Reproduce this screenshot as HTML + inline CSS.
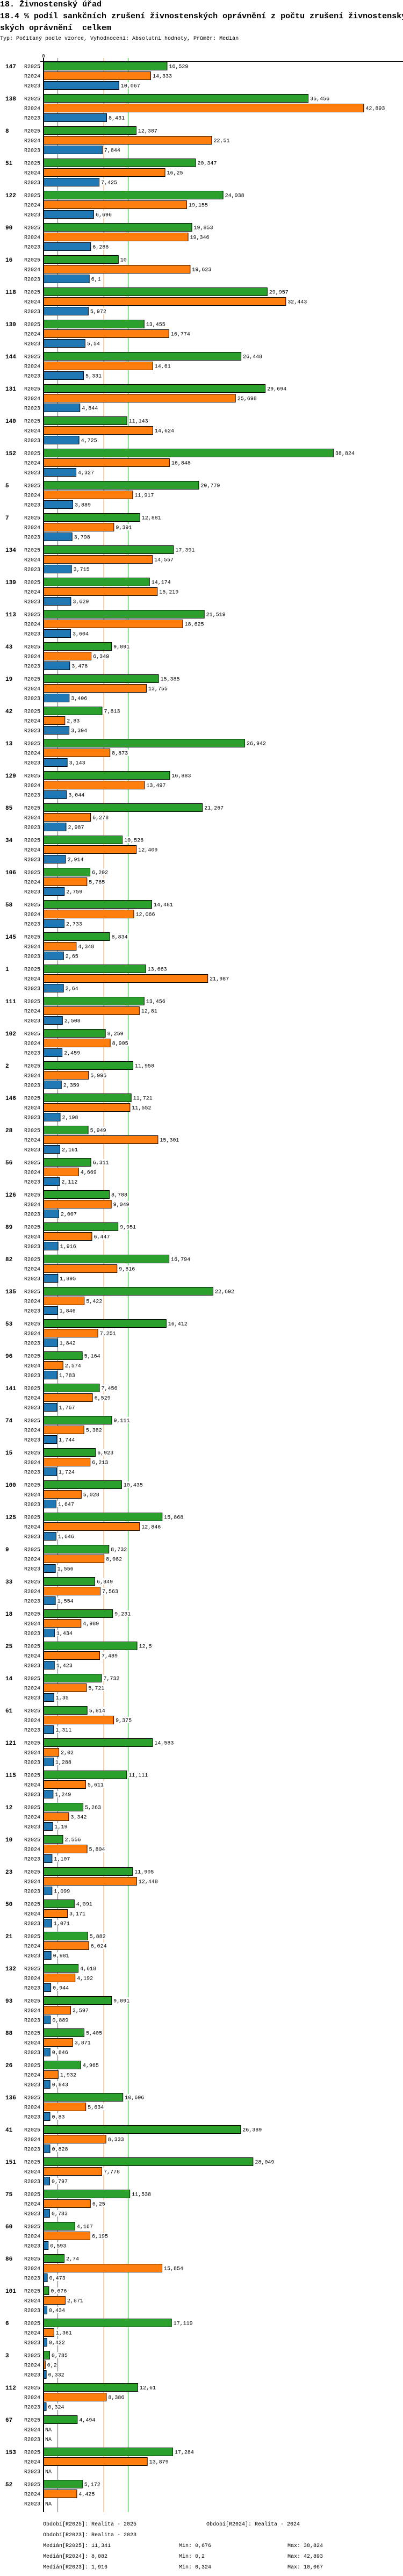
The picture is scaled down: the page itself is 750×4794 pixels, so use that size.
<!DOCTYPE html>
<html><head><meta charset="utf-8">
<style>
html,body{margin:0;padding:0;background:#fff;}
body{width:750px;height:4794px;overflow:hidden;position:relative;font-family:"Liberation Mono","DejaVu Sans Mono",monospace;}
.t{position:absolute;left:0;width:750px;overflow:hidden;font-weight:bold;font-size:15px;white-space:nowrap;color:#000;}
.s{position:absolute;left:0;width:750px;overflow:hidden;font-size:10px;white-space:nowrap;}
svg text{font-family:"Liberation Mono","DejaVu Sans Mono",monospace;}
</style></head>
<body>
<div class="t" style="top:0px">18. Živnostenský úřad</div>
<div class="t" style="top:22px">18.4 % podíl sankčních zrušení živnostenských oprávnění z počtu zrušení živnostenských oprávnění</div>
<div class="t" style="top:44px">ských oprávnění &nbsp;celkem</div>
<div class="s" style="top:67px">Typ: Počítaný podle vzorce, Vyhodnocení: Absolutní hodnoty, Průměr: Medián</div>
<svg id="chart" width="750" height="4794" style="position:absolute;left:0;top:0"></svg>
<script>
const groups = ["147","138","8","51","122","90","16","118","130","144","131","140","152","5","7","134","139","113","43","19","42","13","129","85","34","106","58","145","1","111","102","2","146","28","56","126","89","82","135","53","96","141","74","15","100","125","9","33","18","25","14","61","121","115","12","10","23","50","21","132","93","88","26","136","41","151","75","60","86","101","6","3","112","67","153","52"];
const r2025 = [16.529,35.456,12.387,20.347,24.038,19.853,10,29.957,13.455,26.448,29.694,11.143,38.824,20.779,12.881,17.391,14.174,21.519,9.091,15.385,7.813,26.942,16.883,21.267,10.526,6.202,14.481,8.834,13.663,13.456,8.259,11.958,11.721,5.949,6.311,8.788,9.951,16.794,22.692,16.412,5.164,7.456,9.111,6.923,10.435,15.868,8.732,6.849,9.231,12.5,7.732,5.814,14.583,11.111,5.263,2.556,11.905,4.091,5.882,4.618,9.091,5.405,4.965,10.606,26.389,28.049,11.538,4.167,2.74,0.676,17.119,0.785,12.61,4.494,17.284,5.172];
const r2024 = [14.333,42.893,22.51,16.25,19.155,19.346,19.623,32.443,16.774,14.61,25.698,14.624,16.848,11.917,9.391,14.557,15.219,18.625,6.349,13.755,2.83,8.873,13.497,6.278,12.409,5.785,12.066,4.348,21.987,12.81,8.905,5.995,11.552,15.301,4.669,9.049,6.447,9.816,5.422,7.251,2.574,6.529,5.382,6.213,5.028,12.846,8.082,7.563,4.989,7.489,5.721,9.375,2.02,5.611,3.342,5.804,12.448,3.171,6.024,4.192,3.597,3.871,1.932,5.634,8.333,7.778,6.25,6.195,15.854,2.871,1.361,0.2,8.386,null,13.879,4.425];
const r2023 = [10.067,8.431,7.844,7.425,6.696,6.286,6.1,5.972,5.54,5.331,4.844,4.725,4.327,3.889,3.798,3.715,3.629,3.604,3.478,3.406,3.394,3.143,3.044,2.987,2.914,2.759,2.733,2.65,2.64,2.508,2.459,2.359,2.198,2.161,2.112,2.007,1.916,1.895,1.846,1.842,1.783,1.767,1.744,1.724,1.647,1.646,1.556,1.554,1.434,1.423,1.35,1.311,1.288,1.249,1.19,1.107,1.099,1.071,0.981,0.944,0.889,0.846,0.843,0.83,0.828,0.797,0.783,0.593,0.473,0.434,0.422,0.332,0.324,null,null,null];
const seriesNames = ["R2025","R2024","R2023"];
const medians = [11.341, 8.082, 1.916];
const colors = ["#2ca02c","#ff7f0e","#1f77b4"];

const NS = "http://www.w3.org/2000/svg";
const svg = document.getElementById("chart");
const X0 = 81, SCALE = 13.88, Y0 = 123, GSTEP = 60, RSTEP = 18, BH = 15;
const BOTTOM = 4675;
function xs(v){ return X0 + v*SCALE; }
function gy(i){ return Y0 + i*GSTEP; }
function mk(tag, attrs){ const e=document.createElementNS(NS,tag); for(const k in attrs) e.setAttribute(k,attrs[k]); svg.appendChild(e); return e; }
function fmt(v){ return String(v).replace('.',','); }

medians.forEach((m,i)=>{
  const l = mk("line",{x1:xs(m),x2:xs(m),y1:108,y2:BOTTOM,stroke:colors[i],"stroke-width":1});
  
  
});
const axLine = mk("line",{x1:X0,x2:X0,y1:108,y2:BOTTOM,stroke:"#000","stroke-width":2});


const topLine = mk("line",{x1:75,x2:750,y1:114.5,y2:114.5,stroke:"#000","stroke-width":1});


const zeroTick = mk("text",{x:X0,y:107,"font-size":9,"text-anchor":"middle"});
zeroTick.textContent = "0";



const allSeries = [r2025, r2024, r2023];
groups.forEach((g,i)=>{
  const y = gy(i);
  const gl = mk("text",{x:10,y:y+4,"font-size":11,"font-weight":"bold"});
  gl.textContent = g;
  
  
  allSeries.forEach((arr,s)=>{
    const cy = y + s*RSTEP;
    const yl = mk("text",{x:45,y:cy+3.5,"font-size":10});
    yl.textContent = seriesNames[s];
    
    
    const v = arr[i];
    let lx, txt;
    if (v === null) { lx = X0+3; txt = "NA"; }
    else {
      const r = mk("rect",{x:X0+0.5,y:cy-BH/2,width:Math.max(xs(v)-X0,0.5),height:BH,fill:colors[s],stroke:"#000","stroke-width":1});
      
      
      lx = xs(v)+4; txt = fmt(v);
    }
    const w = txt.length*6+2;
    const bg = mk("rect",{x:lx-1,y:cy-6,width:w,height:12,fill:"#fff"});
    
    
    const vl = mk("text",{x:lx,y:cy+3.5,"font-size":10});
    vl.textContent = txt;
    
    
  });
});

const foot = [
  [80,4700,"Období[R2025]: Realita - 2025"],[384,4700,"Období[R2024]: Realita - 2024"],
  [80,4720,"Období[R2023]: Realita - 2023"],
  [80,4740,"Medián[R2025]: 11,341"],[333,4740,"Min: 0,676"],[535,4740,"Max: 38,824"],
  [80,4760,"Medián[R2024]: 8,082"],[333,4760,"Min: 0,2"],[535,4760,"Max: 42,893"],
  [80,4780,"Medián[R2023]: 1,916"],[333,4780,"Min: 0,324"],[535,4780,"Max: 10,067"]
];
foot.forEach(f=>{
  const t = mk("text",{x:f[0],y:f[1],"font-size":10});
  t.textContent = f[2];
  
  
});
</script>
</body></html>
